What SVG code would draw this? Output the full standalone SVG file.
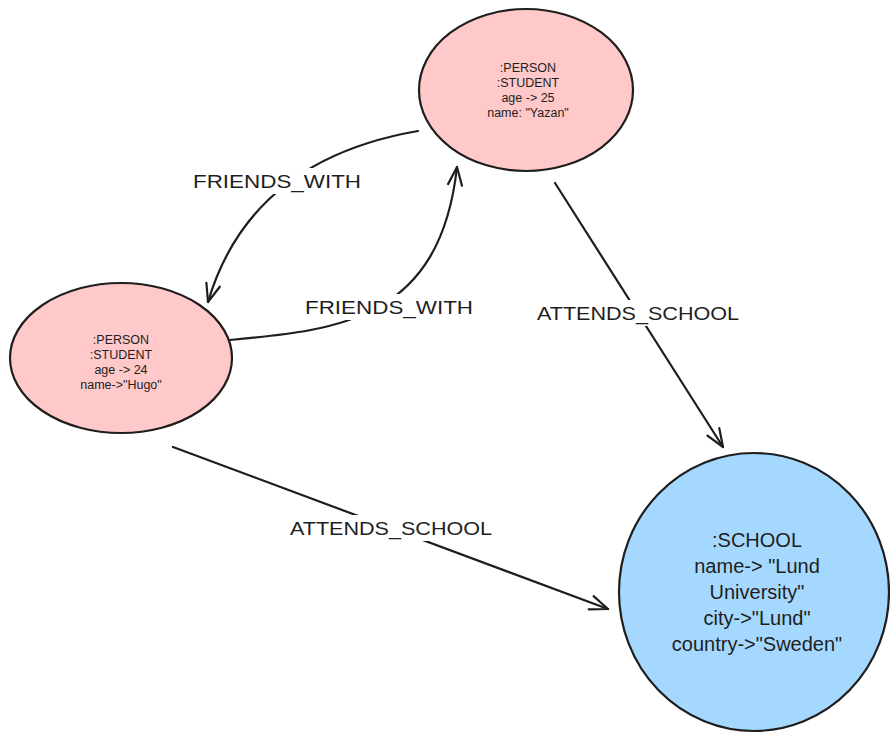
<svg xmlns="http://www.w3.org/2000/svg" width="890" height="733" viewBox="0 0 890 733">
<style>
.node{stroke:#1e1e1e;stroke-width:2.2}
.pink{fill:#ffc9c9}
.blue{fill:#a5d8ff}
.edge{fill:none;stroke:#1e1e1e;stroke-width:2.2;stroke-linecap:round}
.small{font-family:"Liberation Sans",Arial,sans-serif;font-size:12.5px;fill:#1e1e1e;text-anchor:middle}
.big{font-family:"Liberation Sans",Arial,sans-serif;font-size:20px;fill:#1e1e1e;text-anchor:middle}
.lbl{font-family:"Liberation Sans",Arial,sans-serif;font-size:19px;fill:#1e1e1e;text-anchor:middle}
.mask{fill:#ffffff}
</style>
<defs>
<marker id="arr" markerUnits="userSpaceOnUse" markerWidth="30" markerHeight="30" viewBox="-22 -15 30 30" refX="0" refY="0" orient="auto" overflow="visible">
<path d="M-18,-7 L0,0 L-18,7" fill="none" stroke="#1e1e1e" stroke-width="2.2" stroke-linecap="round" stroke-linejoin="round"/>
</marker>
</defs>
<g id="yazan">
<ellipse class="node pink" cx="526" cy="90" rx="107" ry="81"/>
<text class="small" x="528" y="72">:PERSON</text>
<text class="small" x="528" y="87">:STUDENT</text>
<text class="small" x="528" y="102">age -&gt; 25</text>
<text class="small" x="528" y="117">name: "Yazan"</text>
</g>
<g id="hugo">
<ellipse class="node pink" cx="121" cy="358" rx="111" ry="75"/>
<text class="small" x="121" y="344">:PERSON</text>
<text class="small" x="121" y="359">:STUDENT</text>
<text class="small" x="121" y="374">age -&gt; 24</text>
<text class="small" x="121" y="389">name-&gt;"Hugo"</text>
</g>
<g id="school">
<ellipse class="node blue" cx="754" cy="592" rx="135" ry="139"/>
<text class="big" x="757" y="547">:SCHOOL</text>
<text class="big" x="757" y="573">name-&gt; "Lund</text>
<text class="big" x="757" y="599">University"</text>
<text class="big" x="757" y="625">city-&gt;"Lund"</text>
<text class="big" x="757" y="651">country-&gt;"Sweden"</text>
</g>
<g id="connectors">
<path class="edge" d="M418,131 Q250,160 208,302" marker-end="url(#arr)"/>
<path class="edge" d="M230,340 C340,330 440,320 457,167" marker-end="url(#arr)"/>
<path class="edge" d="M555,183 L723,447" marker-end="url(#arr)"/>
<path class="edge" d="M173,447 L608,609" marker-end="url(#arr)"/>
<rect class="mask" x="190" y="168" width="176" height="26"/>
<rect class="mask" x="302" y="294" width="176" height="26"/>
<rect class="mask" x="534" y="300" width="210" height="26"/>
<rect class="mask" x="287" y="515" width="210" height="26"/>
<text class="lbl" x="277" y="188" textLength="168" lengthAdjust="spacingAndGlyphs">FRIENDS_WITH</text>
<text class="lbl" x="389" y="314" textLength="168" lengthAdjust="spacingAndGlyphs">FRIENDS_WITH</text>
<text class="lbl" x="638" y="320" textLength="202" lengthAdjust="spacingAndGlyphs">ATTENDS_SCHOOL</text>
<text class="lbl" x="391" y="535" textLength="202" lengthAdjust="spacingAndGlyphs">ATTENDS_SCHOOL</text>
</g>
</svg>
